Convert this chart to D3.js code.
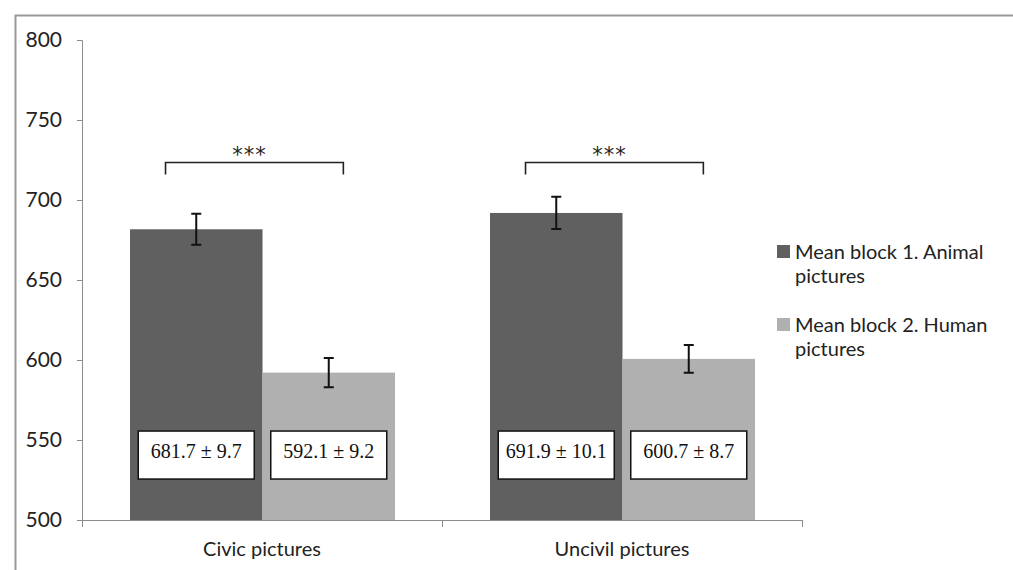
<!DOCTYPE html>
<html><head><meta charset="utf-8">
<script src="https://cdn.jsdelivr.net/npm/d3@7"></script>
<style>body{margin:0;background:#fff}svg{display:block}</style>
</head><body><svg id="c" width="1013" height="570"></svg>
<script>
const categories = ["Civic pictures", "Uncivil pictures"];
const seriesNames = ["Mean block 1. Animal pictures", "Mean block 2. Human pictures"];
const legendLines = [["Mean block 1. Animal", "pictures"], ["Mean block 2. Human", "pictures"]];
const block1Means = [681.7, 691.9];
const block1SE = [9.7, 10.1];
const block2Means = [592.1, 600.7];
const block2SE = [9.2, 8.7];
const significance = ["***", "***"];
const yTicks = [500, 550, 600, 650, 700, 750, 800];
const colors = ["#606060", "#b0b0b0"];

const svg = d3.select("#c");
const sans = "Lato, 'Liberation Sans', sans-serif";
const serif = "'Liberation Serif', 'Times New Roman', serif";

// outer frame
svg.append("path").attr("d","M15.5,570 L15.5,15.5 L1013,15.5")
  .attr("fill","none").attr("stroke","#9a9a9a").attr("stroke-width",2);

const y = d3.scaleLinear().domain([500, 800]).range([520, 40]);
const x = d3.scaleBand().domain(categories).range([82, 802]).padding(0);
const xs = d3.scaleBand().domain([0,1]).range([48, 313]).padding(0);

// y axis
const yAxis = svg.append("g").attr("transform","translate(82,0)")
  .call(d3.axisLeft(y).tickValues(yTicks).tickSize(5).tickPadding(15).tickFormat(d3.format("d")));
yAxis.select(".domain").attr("stroke","#8c8c8c").attr("d","M-5,40.5H0.5V527");
yAxis.selectAll(".tick line").attr("stroke","#8c8c8c");
yAxis.selectAll(".tick text").attr("font-family",sans).attr("font-size",21).attr("fill","#222");

const groups = svg.append("g").selectAll("g").data(categories).join("g")
  .attr("transform", d => `translate(${x(d)},0)`);

const data = categories.map((c,i)=>[
  {m:block1Means[i], se:block1SE[i], s:0},
  {m:block2Means[i], se:block2SE[i], s:1}
]);

groups.each(function(c,i){
  const g = d3.select(this);
  data[i].forEach(d=>{
    g.append("rect").attr("x", xs(d.s)).attr("width", xs.bandwidth())
      .attr("y", y(d.m)).attr("height", y(500)-y(d.m)).attr("fill", colors[d.s]);
  });
  data[i].forEach(d=>{
    const cx = xs(d.s)+xs.bandwidth()/2;
    g.append("path").attr("d",
      `M${cx-5},${y(d.m+d.se)}H${cx+5}M${cx},${y(d.m+d.se)}V${y(d.m-d.se)}M${cx-5},${y(d.m-d.se)}H${cx+5}`)
      .attr("stroke","#111").attr("stroke-width",2).attr("fill","none");
    // value box
    const bw=116, bh=48;
    g.append("rect").attr("x",cx-bw/2).attr("y",y(555.6)).attr("width",bw).attr("height",bh)
      .attr("fill","#fff").attr("stroke","#111").attr("stroke-width",1.5);
    g.append("text").attr("x",cx).attr("y",y(555.6)+27)
      .attr("text-anchor","middle").attr("font-family",serif).attr("font-size",20).attr("fill","#111")
      .text(`${d.m.toFixed(1)} ± ${d.se.toFixed(1)}`);
  });
  // significance bracket
  const bw = x.bandwidth();
  const x0 = bw*0.232, x1 = bw*0.726, by = y(723.4);
  g.append("path").attr("d",`M${x0},${by+12}V${by}H${x1}V${by+12}`)
    .attr("fill","none").attr("stroke","#222").attr("stroke-width",1.6);
  g.append("text").attr("x",(x0+x1)/2-5).attr("y",by-1).attr("text-anchor","middle")
    .attr("font-family","'DejaVu Sans', sans-serif").attr("font-size",21)
    .attr("letter-spacing",1).attr("fill","#222").text(significance[i]);
});

// x axis
const xAxisG = svg.append("g").attr("transform","translate(0,520)");
xAxisG.append("path").attr("d","M82,0.5H802.5").attr("stroke","#8c8c8c").attr("fill","none");
const edges = [x.range()[0], ...categories.map(c=>x(c)+x.bandwidth())];
xAxisG.selectAll("line.t").data(edges).join("line").attr("class","t")
  .attr("x1",d=>Math.round(d)+0.5).attr("x2",d=>Math.round(d)+0.5).attr("y1",0).attr("y2",7)
  .attr("stroke","#8c8c8c");
xAxisG.selectAll("text").data(categories).join("text")
  .attr("x",d=>x(d)+x.bandwidth()/2).attr("y",36).attr("text-anchor","middle")
  .attr("font-family",sans).attr("font-size",20).attr("fill","#222").text(d=>d);

// legend
const leg = svg.append("g").attr("transform","translate(777,245)");
legendLines.forEach((lines,i)=>{
  const gy = i*73;
  leg.append("rect").attr("x",0).attr("y",gy).attr("width",13).attr("height",13).attr("fill",colors[i]);
  lines.forEach((t,j)=>{
    leg.append("text").attr("x",18).attr("y",gy+14+j*24).attr("font-family",sans)
      .attr("font-size",20).attr("fill","#222").text(t);
  });
});
</script></body></html>
